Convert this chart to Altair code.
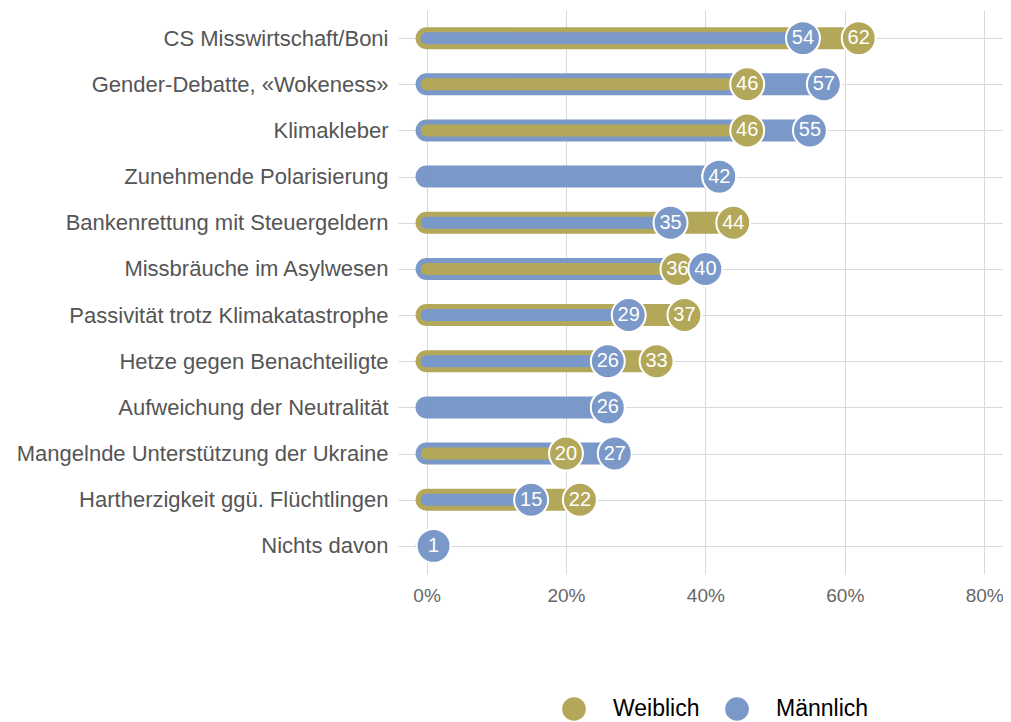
import altair as alt
import pandas as pd

categories = [
    "CS Misswirtschaft/Boni",
    "Gender-Debatte, «Wokeness»",
    "Klimakleber",
    "Zunehmende Polarisierung",
    "Bankenrettung mit Steuergeldern",
    "Missbräuche im Asylwesen",
    "Passivität trotz Klimakatastrophe",
    "Hetze gegen Benachteiligte",
    "Aufweichung der Neutralität",
    "Mangelnde Unterstützung der Ukraine",
    "Hartherzigkeit ggü. Flüchtlingen",
    "Nichts davon",
]
weiblich = [62, 46, 46, 42, 44, 36, 37, 33, 26, 20, 22, 1]
maennlich = [54, 57, 55, 42, 35, 40, 29, 26, 26, 27, 15, 1]
series = ["Weiblich", "Männlich"]
colors = ["#b3a85a", "#7a98c8"]
tick_values = [0, 20, 40, 60, 80]

wide = pd.DataFrame({"cat": categories, "w": weiblich, "m": maennlich})
wide["hi"] = wide[["w", "m"]].max(axis=1)
wide["lo"] = wide[["w", "m"]].min(axis=1)
wide["hi_s"] = ["Weiblich" if w > m else "Männlich" for w, m in zip(weiblich, maennlich)]
wide["lo_s"] = ["Weiblich" if w < m else "Männlich" for w, m in zip(weiblich, maennlich)]

long = pd.concat([
    pd.DataFrame({"cat": categories, "g": "Weiblich", "v": weiblich}),
    pd.DataFrame({"cat": categories, "g": "Männlich", "v": maennlich}),
], ignore_index=True)

font = "Liberation Sans"
xscale = alt.Scale(domain=[-4.1, 82.7], nice=False, zero=False)
yscale = alt.Scale(type="point", padding=0.61)
cscale = alt.Scale(domain=series, range=colors)

leg = alt.Legend(title=None, orient="none", legendX=164, legendY=687,
                 direction="horizontal", labelFontSize=23, labelColor="#000000",
                 labelFont=font, symbolSize=560, symbolType="circle",
                 symbolStrokeWidth=0, labelOffset=27, columnPadding=25, padding=0)

yenc = alt.Y("cat:N", sort=categories, scale=yscale,
             axis=alt.Axis(title=None, labelFontSize=22, labelColor="#555555",
                           labelFont=font, ticks=False, domain=False, grid=True,
                           gridColor="#d9d9d9", labelPadding=10, labelLimit=600))
xaxis = alt.Axis(title=None, values=tick_values, labelExpr="datum.value + '%'",
                 labelFontSize=19, labelColor="#666666", labelFont=font,
                 ticks=False, domain=False, grid=True, gridColor="#d9d9d9",
                 labelPadding=12)

thick = alt.Chart(wide).mark_rule(strokeWidth=22, strokeCap="round").encode(
    x=alt.X("hi:Q", scale=xscale, axis=xaxis),
    x2=alt.datum(0),
    y=yenc,
    color=alt.Color("hi_s:N", scale=cscale, legend=leg),
)
thin = alt.Chart(wide).mark_rule(strokeWidth=12, strokeCap="round").encode(
    x=alt.X("lo:Q", scale=xscale),
    x2=alt.datum(0),
    y=alt.Y("cat:N", sort=categories, scale=yscale),
    color=alt.Color("lo_s:N", scale=cscale, legend=leg),
)

def dots(gname):
    base = alt.Chart(long).transform_filter(alt.datum.g == gname)
    c = base.mark_circle(size=1150, opacity=1, stroke="white", strokeWidth=2).encode(
        x=alt.X("v:Q", scale=xscale),
        y=alt.Y("cat:N", sort=categories, scale=yscale),
        color=alt.Color("g:N", scale=cscale, legend=leg),
    )
    t = base.mark_text(fontSize=20, font=font, color="white", align="center",
                       baseline="middle").encode(
        x=alt.X("v:Q", scale=xscale),
        y=alt.Y("cat:N", sort=categories, scale=yscale),
        text="v:Q",
    )
    return c, t

wc, wt = dots("Weiblich")
mc, mt = dots("Männlich")

chart = alt.layer(thick, thin, wc, wt, mc, mt).properties(
    width=605, height=564,
    autosize=alt.AutoSizeParams(type="none"),
    padding={"left": 390, "top": 2, "right": 0, "bottom": 148},
).configure_view(stroke=None)

chart.save("out.html", embed_options={"renderer": "svg", "actions": False})
